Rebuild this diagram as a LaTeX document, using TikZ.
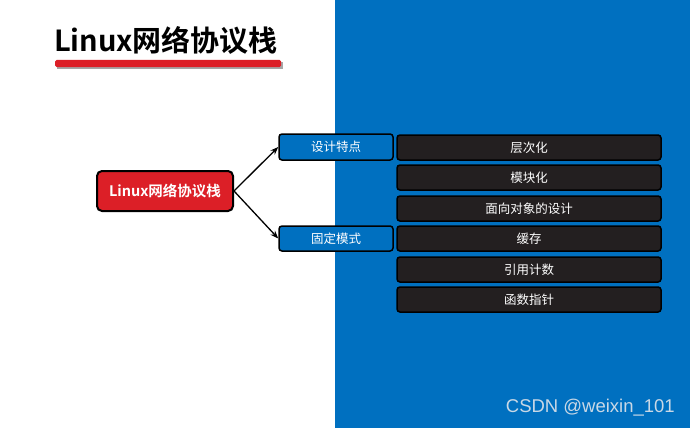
\documentclass[tikz,border=0pt]{standalone}
\usepackage{fontspec}
\setmainfont{Noto Sans CJK SC}
\newfontfamily\cjkbold{Noto Sans CJK SC Bold}
\newfontfamily\wmfont{Liberation Sans}
\usetikzlibrary{arrows.meta}
\definecolor{bgblue}{HTML}{0070C0}
\definecolor{redfill}{HTML}{DC1F27}
\definecolor{darkfill}{HTML}{231F20}
\definecolor{wmark}{HTML}{C9D8E6}
\tikzset{
  rootbox/.style={draw=black, line width=2pt, fill=redfill, rounded corners=5pt,
    minimum width=136pt, minimum height=40pt, inner sep=0pt, text=white,
    font=\cjkbold\fontsize{14.5}{16}\selectfont},
  catbox/.style={draw=black, line width=1.5pt, fill=bgblue, rounded corners=3pt,
    minimum width=114pt, minimum height=25pt, inner sep=0pt, text=white,
    font=\fontsize{12.5}{14}\selectfont},
  itembox/.style={draw=black, line width=1.5pt, fill=darkfill, rounded corners=3pt,
    minimum width=264pt, minimum height=25pt, inner sep=0pt, text=white,
    font=\fontsize{12.5}{14}\selectfont},
  link/.style={line width=1.3pt, -{Stealth[length=8pt,width=6pt]}}
}
\begin{document}
\begin{tikzpicture}[x=1pt,y=-1pt]
\useasboundingbox (0,0) rectangle (690,428);
\fill[white] (0,0) rectangle (335,428);
\fill[bgblue] (335,0) rectangle (690,428);
% title
\node[anchor=center, inner sep=0pt, font=\cjkbold\fontsize{29}{32}\selectfont] (title) at (166,40) {Linux网络协议栈};
\fill[black!35] (57,62) rectangle (283,69);
\fill[redfill, rounded corners=1.5pt] (55,60) rectangle (281,67);
% nodes
\node[rootbox] (root) at (165,191) {Linux网络协议栈};
\node[catbox, minimum height=26pt] (c1) at (336,147) {设计特点};
\node[catbox] (c2) at (336,238.5) {固定模式};
\node[itembox] (i1) at (529,147.5) {层次化};
\node[itembox] (i2) at (529,177.5) {模块化};
\node[itembox] (i3) at (529,208.5) {面向对象的设计};
\node[itembox] (i4) at (529,238.5) {缓存};
\node[itembox] (i5) at (529,269.5) {引用计数};
\node[itembox] (i6) at (529,299.5) {函数指针};
\draw[link] (root.east) -- (c1.west);
\draw[link] (root.east) -- (c2.west);
% watermark
\node[anchor=east, inner sep=0pt, text=wmark, font=\wmfont\fontsize{18.5}{20}\selectfont] (wm) at (675,408) {CSDN @weixin\_101};
\end{tikzpicture}
\end{document}
